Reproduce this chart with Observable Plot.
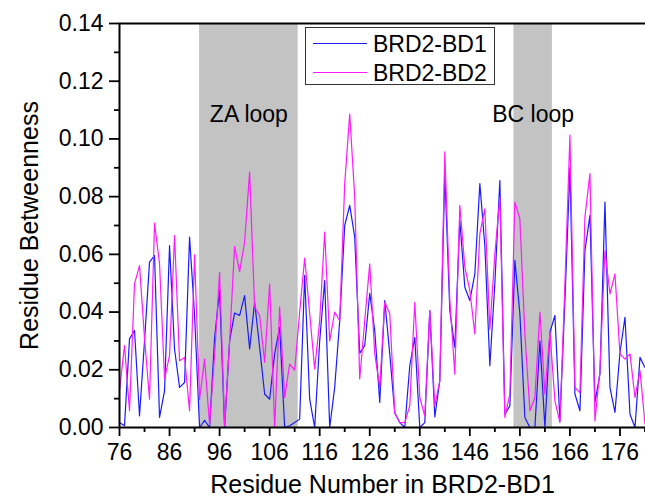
<!DOCTYPE html>
<html><head><meta charset="utf-8">
<script src="https://cdn.jsdelivr.net/npm/d3@7"></script>
<script src="https://cdn.jsdelivr.net/npm/@observablehq/plot@0.6"></script>
<style>
html,body{margin:0;padding:0;background:#fff;}
#wrap{position:relative;width:645px;height:498px;font-family:"Liberation Sans",Arial,sans-serif;}
#legend{position:absolute;left:305px;top:27px;width:190px;height:58px;border:1px solid #333;background:#fff;box-sizing:border-box;}
.row{position:absolute;left:0;display:flex;align-items:center;height:28px;}
.sw{width:54px;height:0;border-top:1.3px solid;margin-left:7px;margin-right:6px;}
.lab{font-size:23px;color:#000;line-height:28px;}
</style></head>
<body>
<div id="wrap"></div>
<script>
const residues = [76,77,78,79,80,81,82,83,84,85,86,87,88,89,90,91,92,93,94,95,96,97,98,99,100,101,102,103,104,105,106,107,108,109,110,111,112,113,114,115,116,117,118,119,120,121,122,123,124,125,126,127,128,129,130,131,132,133,134,135,136,137,138,139,140,141,142,143,144,145,146,147,148,149,150,151,152,153,154,155,156,157,158,159,160,161,162,163,164,165,166,167,168,169,170,171,172,173,174,175,176,177,178,179,180,181];
const bd1 = [0.0017,0.0006,0.0307,0.0336,0.0040,0.0300,0.0573,0.0596,0.0035,0.0127,0.0630,0.0272,0.0139,0.0156,0.0660,0.0390,0.0000,0.0025,0.0000,0.0310,0.0475,0.0000,0.0300,0.0397,0.0388,0.0457,0.0272,0.0434,0.0278,0.0116,0.0098,0.0255,0.0347,0.0000,0.0006,0.0017,0.0029,0.0527,0.0098,0.0000,0.0300,0.0509,0.0000,0.0139,0.0370,0.0700,0.0770,0.0660,0.0258,0.0284,0.0465,0.0336,0.0087,0.0440,0.0255,0.0050,0.0017,0.0000,0.0214,0.0312,0.0000,0.0017,0.0405,0.0037,0.0162,0.0880,0.0405,0.0278,0.0718,0.0486,0.0440,0.0532,0.0845,0.0630,0.0214,0.0500,0.0856,0.0046,0.0075,0.0579,0.0394,0.0035,0.0000,0.0000,0.0300,0.0000,0.0330,0.0388,0.0023,0.0440,0.0900,0.0116,0.0058,0.0613,0.0735,0.0087,0.0185,0.0781,0.0139,0.0052,0.0260,0.0382,0.0046,0.0000,0.0243,0.0208];
const bd2 = [0.0127,0.0284,0.0058,0.0498,0.0561,0.0310,0.0098,0.0708,0.0567,0.0168,0.0250,0.0665,0.0231,0.0243,0.0058,0.0598,0.0098,0.0237,0.0010,0.0250,0.0538,0.0006,0.0300,0.0627,0.0540,0.0642,0.0885,0.0417,0.0388,0.0226,0.0498,0.0000,0.0417,0.0104,0.0220,0.0199,0.0400,0.0587,0.0394,0.0203,0.0370,0.0677,0.0300,0.0400,0.0370,0.0845,0.1086,0.0799,0.0168,0.0370,0.0567,0.0255,0.0139,0.0434,0.0394,0.0050,0.0017,0.0017,0.0075,0.0434,0.0104,0.0040,0.0405,0.0075,0.0162,0.0955,0.0440,0.0185,0.0770,0.0556,0.0475,0.0324,0.0671,0.0758,0.0340,0.0600,0.0799,0.0035,0.0116,0.0781,0.0723,0.0324,0.0058,0.0104,0.0400,0.0116,0.0330,0.0093,0.0017,0.0498,0.1013,0.0139,0.0120,0.0730,0.0880,0.0023,0.0200,0.0613,0.0463,0.0532,0.0255,0.0237,0.0255,0.0104,0.0197,0.0012];
const seriesNames = ["BRD2-BD1", "BRD2-BD2"];
const seriesColors = ["#1a1aff", "#ff1aff"];
const loopNames = ["ZA loop", "BC loop"];
const loopStart = [92, 154.8];
const loopEnd = [111.7, 162.5];
const xMajorTicks = [76,86,96,106,116,126,136,146,156,166,176];
const xMinorTicks = [81,91,101,111,121,131,141,151,161,171,181];
const yMajorTicks = [0,0.02,0.04,0.06,0.08,0.10,0.12,0.14];
const yMinorTicks = [0.01,0.03,0.05,0.07,0.09,0.11,0.13];
const xTitle = "Residue Number in BRD2-BD1";
const yTitle = "Residue Betweenness";

const rows = residues.map((r, i) => ({residue: r, bd1: bd1[i], bd2: bd2[i]}));
const loops = loopNames.map((n, i) => ({name: n, x1: loopStart[i], x2: loopEnd[i], xm: (loopStart[i] + loopEnd[i]) / 2}));

const chart = Plot.plot({
  width: 645, height: 498,
  marginLeft: 119, marginRight: 0, marginTop: 23, marginBottom: 71,
  style: {fontFamily: '"Liberation Sans", Arial, sans-serif', fontSize: "23px", color: "#000", background: "#fff"},
  x: {domain: [76, 181.1]},
  y: {domain: [0, 0.14]},
  marks: [
    Plot.rect(loops, {x1: "x1", x2: "x2", y1: 0, y2: 0.14, fill: "#c3c3c3"}),
    Plot.text(loops, {x: "xm", y: 0.1085, text: "name", fontSize: 23, fill: "#000"}),
    Plot.line(rows, {x: "residue", y: "bd1", stroke: seriesColors[0], strokeWidth: 1.2}),
    Plot.line(rows, {x: "residue", y: "bd2", stroke: seriesColors[1], strokeWidth: 1.2}),
    Plot.axisX({ticks: xMajorTicks, tickSize: 9, tickPadding: 7, tickFormat: d => String(d), strokeWidth: 1.8, fontSize: 23, label: null}),
    Plot.axisX({ticks: xMinorTicks, tickSize: 5, tickFormat: () => "", strokeWidth: 1.8, label: null}),
    Plot.axisY({ticks: yMajorTicks, tickSize: 10, tickPadding: 6, tickFormat: d3.format(".2f"), strokeWidth: 1.8, fontSize: 23, label: null}),
    Plot.axisY({ticks: yMinorTicks, tickSize: 5, tickFormat: () => "", strokeWidth: 1.8, label: null}),
    Plot.ruleY([0], {stroke: "#000", strokeWidth: 2}),
    Plot.ruleY([0.14], {stroke: "#000", strokeWidth: 2}),
    Plot.ruleX([76], {stroke: "#000", strokeWidth: 2}),
    Plot.text([xTitle], {frameAnchor: "bottom", lineAnchor: "middle", dy: 57, fontSize: 25, fill: "#000"}),
    Plot.text([yTitle], {frameAnchor: "left", textAnchor: "middle", lineAnchor: "middle", dx: -90, rotate: -90, fontSize: 25, fill: "#000"})
  ]
});

const wrap = document.getElementById("wrap");
wrap.appendChild(chart);
const legend = document.createElement("div");
legend.id = "legend";
seriesNames.forEach((name, i) => {
  const row = document.createElement("div");
  row.className = "row";
  row.style.top = (i === 0 ? 1.5 : 30.5) + "px";
  const sw = document.createElement("div");
  sw.className = "sw";
  sw.style.borderTopColor = seriesColors[i];
  const lab = document.createElement("span");
  lab.className = "lab";
  lab.textContent = name;
  row.appendChild(sw); row.appendChild(lab);
  legend.appendChild(row);
});
wrap.appendChild(legend);
</script>
</body></html>
